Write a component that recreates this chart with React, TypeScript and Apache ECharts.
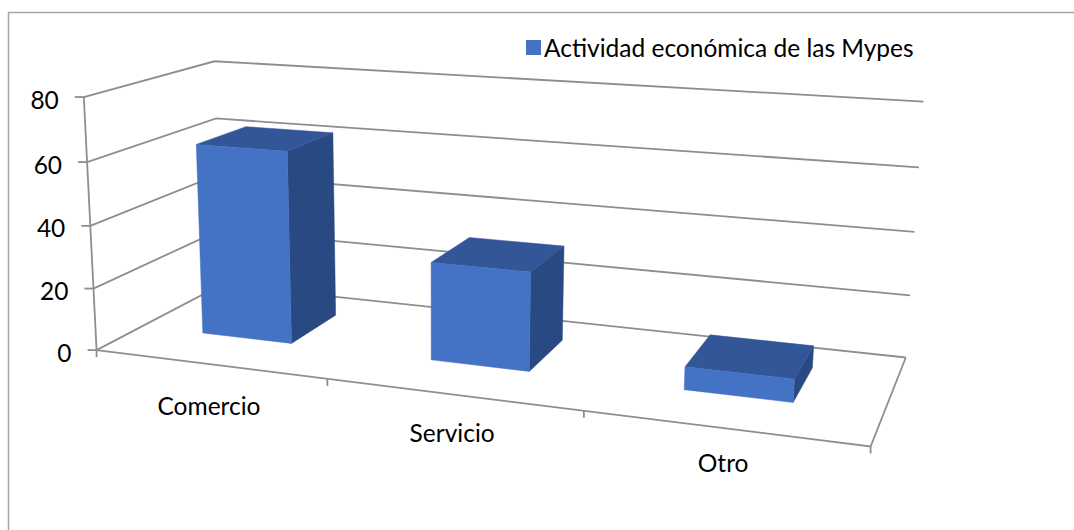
import React, { useEffect, useRef } from "react";
import * as echarts from "echarts";

// ---- data ----
const categories = ["Comercio", "Servicio", "Otro"];
const values = [62, 31, 7];
const yTicks = [0, 20, 40, 60, 80];
const seriesName = "Actividad económica de las Mypes";

// ---- layout (3D camera calibration: [X(category units), Y(value), Z(depth 0 front..1 back), px, py]) ----
const Y_MAX = 80;
const N_CAT = 3;
const calib: number[][] = [
  [0, 0, 0, 98, 348],
  [0, 20, 0, 93, 288],
  [0, 40, 0, 90, 226],
  [0, 60, 0, 87, 162],
  [0, 80, 0, 83, 97],
  [1, 0, 0, 328, 379],
  [2, 0, 0, 584, 413],
  [3, 0, 0, 870, 447],
  [0, 80, 1, 215, 61],
  [0, 60, 1, 217, 119],
  [0, 0, 1, 220, 286],
  [3, 0, 1, 906, 356],
  [3, 20, 1, 910, 295],
  [3, 40, 1, 915, 232],
  [3, 60, 1, 919, 167],
  [3, 80, 1, 923, 102],
];
const BAR_CENTER = 0.48;
const BAR_HALF = 0.2;
const BAR_Z0 = 0.34;
const BAR_Z1 = 0.75;
const FONT = "Lato";
const FONT_SIZE = 24.5;
const GRID_COLOR = "#8e8e8e";

function solve(A: number[][], b: number[]): number[] {
  const n = b.length;
  const M = A.map((r, i) => [...r, b[i]]);
  for (let c = 0; c < n; c++) {
    let p = c;
    for (let r = c + 1; r < n; r++) if (Math.abs(M[r][c]) > Math.abs(M[p][c])) p = r;
    [M[c], M[p]] = [M[p], M[c]];
    for (let r = 0; r < n; r++) {
      if (r === c) continue;
      const f = M[r][c] / M[c][c];
      for (let k = c; k <= n; k++) M[r][k] -= f * M[c][k];
    }
  }
  return M.map((r, i) => r[n] / r[i]);
}

function fitCamera(pts: number[][]): number[] {
  const n = 11;
  const AtA = Array.from({ length: n }, () => new Array(n).fill(0));
  const Atb = new Array(n).fill(0);
  const add = (row: number[], rhs: number) => {
    for (let i = 0; i < n; i++) {
      Atb[i] += row[i] * rhs;
      for (let j = 0; j < n; j++) AtA[i][j] += row[i] * row[j];
    }
  };
  for (const [X, Y, Z, u, v] of pts) {
    const x = X / N_CAT, y = Y / Y_MAX, z = Z;
    add([x, y, z, 1, 0, 0, 0, 0, -u * x, -u * y, -u * z], u);
    add([0, 0, 0, 0, x, y, z, 1, -v * x, -v * y, -v * z], v);
  }
  return solve(AtA, Atb);
}

const P = fitCamera(calib);
function project(X: number, Y: number, Z: number): number[] {
  const x = X / N_CAT, y = Y / Y_MAX, z = Z;
  const w = P[8] * x + P[9] * y + P[10] * z + 1;
  return [
    (P[0] * x + P[1] * y + P[2] * z + P[3]) / w,
    (P[4] * x + P[5] * y + P[6] * z + P[7]) / w,
  ];
}

const lineStyle = { stroke: GRID_COLOR, lineWidth: 1.8, fill: null };
const poly = (pts: number[][], fill: string) => ({
  type: "polygon",
  shape: { points: pts },
  style: { fill, stroke: fill, lineWidth: 0.5 },
});

export default function App() {
  const ref = useRef<HTMLDivElement>(null);
  useEffect(() => {
    if (!ref.current) return;
    const chart = echarts.init(ref.current, null, { renderer: "svg" });
    chart.setOption({
      animation: false,
      backgroundColor: "#ffffff",
      legend: {
        data: [seriesName],
        left: 526,
        top: 35,
        padding: 0,
        icon: "rect",
        itemWidth: 15,
        itemHeight: 15,
        itemGap: 6,
        textStyle: { fontFamily: FONT, fontSize: FONT_SIZE, color: "#000", padding: [0, 0, 0, -2] },
      },
      graphic: [
        {
          type: "rect",
          shape: { x: 8.5, y: 12.5, width: 1200, height: 800 },
          style: { fill: null, stroke: "#a6a6a6", lineWidth: 1.5 },
          silent: true,
        },
      ],
      series: [
        {
          type: "custom",
          name: "walls",
          coordinateSystem: "none",
          data: yTicks.map((t) => [t]),
          silent: true,
          z: 1,
          renderItem: (params: any, api: any) => {
            const t = api.value(0);
            const a = project(0, t, 0);
            const b = project(0, t, 1);
            const c = project(N_CAT, t, 1);
            return {
              type: "group",
              children: [
                { type: "polyline", shape: { points: [a, b, c] }, style: lineStyle },
                { type: "line", shape: { x1: a[0] - 9, y1: a[1], x2: a[0], y2: a[1] }, style: lineStyle },
                {
                  type: "text",
                  style: {
                    text: String(t),
                    x: a[0] - 25,
                    y: a[1] + 2,
                    align: "right",
                    verticalAlign: "middle",
                    font: `${FONT_SIZE}px ${FONT}`,
                    fill: "#000",
                  },
                },
              ],
            };
          },
        },
        {
          type: "custom",
          name: "floor",
          coordinateSystem: "none",
          data: categories.map((c, i) => [i]),
          silent: true,
          z: 1,
          renderItem: (params: any, api: any) => {
            const i = api.value(0);
            const children: any[] = [];
            if (i === 0) {
              const fl = project(0, 0, 0);
              const fr = project(N_CAT, 0, 0);
              const br = project(N_CAT, 0, 1);
              const top = project(0, Y_MAX, 0);
              children.push({ type: "polyline", shape: { points: [fl, fr, br] }, style: lineStyle });
              children.push({ type: "line", shape: { x1: fl[0], y1: fl[1], x2: top[0], y2: top[1] }, style: lineStyle });
              for (let k = 0; k <= N_CAT; k++) {
                const p = project(k, 0, 0);
                children.push({ type: "line", shape: { x1: p[0], y1: p[1], x2: p[0], y2: p[1] + 7 }, style: lineStyle });
              }
            }
            const m = project(i + 0.5, 0, 0);
            const dy = 41 - 0.0137 * (m[0] - 210);
            children.push({
              type: "text",
              style: {
                text: categories[i],
                x: m[0],
                y: m[1] + dy,
                align: "center",
                verticalAlign: "middle",
                font: `${FONT_SIZE}px ${FONT}`,
                fill: "#000",
              },
            });
            return { type: "group", children };
          },
        },
        {
          type: "custom",
          name: seriesName,
          coordinateSystem: "none",
          data: values.map((v, i) => [i, v]),
          itemStyle: { color: "#4472C4" },
          z: 5,
          renderItem: (params: any, api: any) => {
            const i = api.value(0);
            const v = api.value(1);
            const x0 = i + BAR_CENTER - BAR_HALF, x1 = i + BAR_CENTER + BAR_HALF;
            const f00 = project(x0, 0, BAR_Z0), f10 = project(x1, 0, BAR_Z0);
            const f01 = project(x0, v, BAR_Z0), f11 = project(x1, v, BAR_Z0);
            const b10 = project(x1, 0, BAR_Z1);
            const b01 = project(x0, v, BAR_Z1), b11 = project(x1, v, BAR_Z1);
            return {
              type: "group",
              children: [
                poly([f10, b10, b11, f11], "#294982"),
                poly([f01, f11, b11, b01], "#325698"),
                poly([f00, f10, f11, f01], "#4472C4"),
              ],
            };
          },
        },
      ],
    });
    return () => chart.dispose();
  }, []);
  return <div ref={ref} style={{ position: "fixed", left: 0, top: 0, width: 1074, height: 530 }} />;
}
